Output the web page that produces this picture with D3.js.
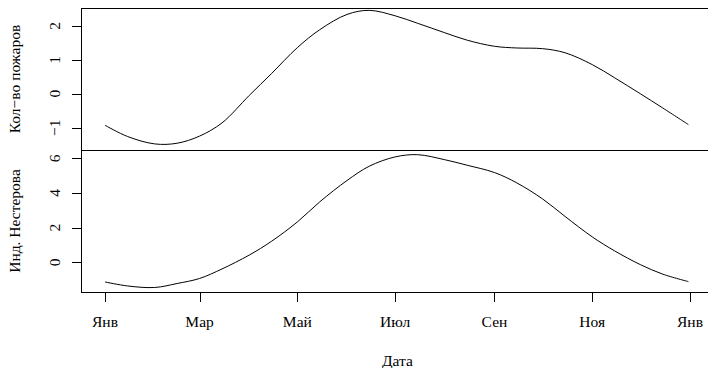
<!DOCTYPE html>
<html>
<head>
    <meta charset="utf-8">
    <title>Пожары и индекс Нестерова</title>
    <script src="https://d3js.org/d3.v7.min.js"></script>
    <style>
        body { margin: 0; background: #fff; }
        text {
            font-family: "Liberation Serif", "DejaVu Serif", serif;
            font-size: 15.5px;
            fill: #000;
        }
    </style>
</head>
<body>
    <div id="svg_container"></div>

    <script>
        const width = 708;
        const height = 368;

        // data (semi-monthly)
        const dates = ["2021-01-01", "2021-01-15", "2021-02-01", "2021-02-15", "2021-03-01",
                       "2021-03-15", "2021-04-01", "2021-04-15", "2021-05-01", "2021-05-15",
                       "2021-06-01", "2021-06-15", "2021-07-01", "2021-07-15", "2021-08-01",
                       "2021-08-15", "2021-09-01", "2021-09-15", "2021-10-01", "2021-10-15",
                       "2021-11-01", "2021-11-15", "2021-12-01", "2021-12-15", "2021-12-31"];
        const fires = [-0.93, -1.26, -1.48, -1.46, -1.25, -0.86, -0.05, 0.60, 1.36, 1.89,
                       2.34, 2.46, 2.30, 2.08, 1.80, 1.58, 1.40, 1.35, 1.33, 1.21,
                       0.86, 0.47, 0.00, -0.42, -0.91];
        const nesterov = [-1.13, -1.36, -1.45, -1.22, -0.93, -0.38, 0.42, 1.22, 2.33, 3.49,
                          4.72, 5.55, 6.08, 6.21, 5.92, 5.60, 5.18, 4.58, 3.66, 2.65,
                          1.47, 0.66, -0.13, -0.68, -1.11];

        const xTickDates = ["2021-01-01", "2021-03-01", "2021-05-01", "2021-07-01",
                            "2021-09-01", "2021-11-01", "2022-01-01"];
        const xTickLabels = ["Янв", "Мар", "Май", "Июл", "Сен", "Ноя", "Янв"];
        const firesTicks = [-1, 0, 1, 2];
        const nesterovTicks = [0, 2, 4, 6];

        const panels = [
            { title: "Кол\u2212во пожаров", values: fires, ticks: firesTicks,
              domain: [-1.66, 2.53], top: 8, bottom: 150 },
            { title: "Инд. Нестерова", values: nesterov, ticks: nesterovTicks,
              domain: [-1.71, 6.48], top: 150, bottom: 292 }
        ];

        const left = 81, right = 714;
        const parse = d3.timeParse("%Y-%m-%d");

        const x = d3.scaleTime()
            .domain([parse("2021-01-01"), parse("2022-01-01")])
            .range([105, 690]);

        const svg = d3.select("#svg_container")
            .append("svg")
            .attr("width", width)
            .attr("height", height);

        const fmt = v => String(v).replace("-", "\u2212");

        panels.forEach(p => {
            const y = d3.scaleLinear().domain(p.domain).range([p.bottom, p.top]);

            svg.append("rect")
                .attr("x", left + 0.5)
                .attr("y", p.top + 0.5)
                .attr("width", right - left)
                .attr("height", p.bottom - p.top)
                .attr("fill", "none")
                .attr("stroke", "#000")
                .attr("stroke-width", 1);

            const line = d3.line()
                .x((d, i) => x(parse(dates[i])))
                .y(d => y(d))
                .curve(d3.curveCatmullRom.alpha(0.5));

            svg.append("path")
                .datum(p.values)
                .attr("d", line)
                .attr("fill", "none")
                .attr("stroke", "#000")
                .attr("stroke-width", 1);

            // y axis, R style: ticks outside, labels parallel to axis
            const g = svg.append("g");
            p.ticks.forEach(t => {
                const ty = Math.round(y(t)) + 0.5;
                g.append("line")
                    .attr("x1", left + 0.5).attr("x2", left - 9)
                    .attr("y1", ty).attr("y2", ty)
                    .attr("stroke", "#000");
                g.append("text")
                    .attr("transform", `translate(60,${y(t)}) rotate(-90)`)
                    .attr("text-anchor", "middle")
                    .text(fmt(t));
            });

            svg.append("text")
                .attr("transform", `translate(20,${(p.top + p.bottom) / 2}) rotate(-90)`)
                .attr("text-anchor", "middle")
                .text(p.title);
        });

        // x axis under the bottom panel
        const xa = svg.append("g");
        xTickDates.forEach((d, i) => {
            const tx = Math.round(x(parse(d))) + 0.5;
            xa.append("line")
                .attr("x1", tx).attr("x2", tx)
                .attr("y1", 292.5).attr("y2", 302)
                .attr("stroke", "#000");
            xa.append("text")
                .attr("x", x(parse(d)))
                .attr("y", 327)
                .attr("text-anchor", "middle")
                .text(xTickLabels[i]);
        });

        svg.append("text")
            .attr("x", (left + right) / 2)
            .attr("y", 366)
            .attr("text-anchor", "middle")
            .text("Дата");
    </script>
</body>
</html>
